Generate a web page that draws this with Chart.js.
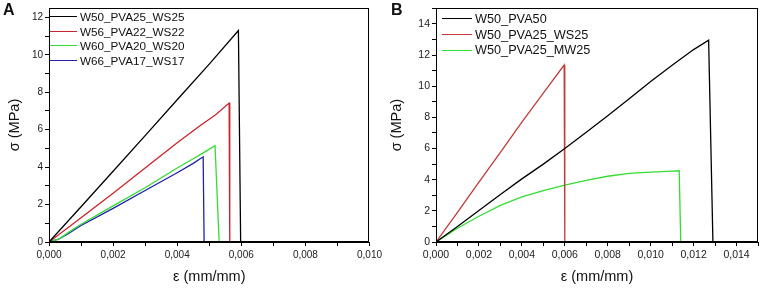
<!DOCTYPE html>
<html>
<head>
<meta charset="utf-8">
<script src="https://cdn.jsdelivr.net/npm/chart.js@4.4.1/dist/chart.umd.min.js"></script>
<style>
  body { margin: 0; background: #fff; font-family: "Liberation Sans", Arial, sans-serif; }
  #wrap { position: relative; width: 765px; height: 290px; overflow: hidden; }
  .panel { position: absolute; top: 0; }
  .tag { position: absolute; top: 2px; font-weight: bold; font-size: 16px; line-height: 16px; color: #111; }
  .legend { position: absolute; color: #111; }
  .legend .row { display: flex; align-items: center; white-space: nowrap; }
  .legend .line { display: inline-block; height: 0; border-top: 1.5px solid; margin-right: 3px; }
</style>
</head>
<body>
<div id="wrap">
  <canvas id="chartA" class="panel" style="left:0" width="385" height="290"></canvas>
  <canvas id="chartB" class="panel" style="left:385px" width="380" height="290"></canvas>
  <div class="tag" style="left:3px">A</div>
  <div class="tag" style="left:391px">B</div>
  <div id="legendA" class="legend" style="left:50px; top:9px; font-size:11.7px"></div>
  <div id="legendB" class="legend" style="left:442px; top:11px; font-size:12.7px"></div>
</div>

<script>
"use strict";

// ---- Panel A : strain (mm/mm) / stress (MPa) ----
const namesA = ["W50_PVA25_WS25", "W56_PVA22_WS22", "W60_PVA20_WS20", "W66_PVA17_WS17"];

const strainA_W50 = [0, 0.001, 0.002, 0.003, 0.004, 0.005, 0.00591, 0.00598];
const stressA_W50 = [0, 1.88, 3.78, 5.68, 7.6, 9.5, 11.3, 0];

const strainA_W56 = [0, 0.001, 0.002, 0.003, 0.004, 0.0047, 0.0052, 0.00562, 0.00564];
const stressA_W56 = [0, 1.3, 2.6, 3.95, 5.3, 6.2, 6.8, 7.42, 0];

const strainA_W60 = [0, 0.0003, 0.0006, 0.001, 0.002, 0.003, 0.004, 0.0045, 0.0048, 0.00518, 0.00531];
const stressA_W60 = [0, 0.15, 0.5, 0.95, 1.93, 2.9, 3.95, 4.45, 4.75, 5.15, 0];

const strainA_W66 = [0, 0.0003, 0.0006, 0.001, 0.002, 0.003, 0.004, 0.0045, 0.00481, 0.00484];
const stressA_W66 = [0, 0.15, 0.45, 0.88, 1.8, 2.75, 3.7, 4.2, 4.55, 0];

// ---- Panel B ----
const namesB = ["W50_PVA50", "W50_PVA25_WS25", "W50_PVA25_MW25"];

const strainB_PVA50 = [0, 0.001, 0.002, 0.003, 0.004, 0.005, 0.006, 0.007, 0.008, 0.009, 0.010, 0.011, 0.012, 0.0127, 0.0129];
const stressB_PVA50 = [0, 1.0, 2.02, 3.05, 4.05, 5.0, 6.0, 7.05, 8.1, 9.2, 10.3, 11.35, 12.35, 12.95, 0];

const strainB_WS25 = [0, 0.001, 0.002, 0.003, 0.004, 0.005, 0.00597, 0.006];
const stressB_WS25 = [0, 1.9, 3.85, 5.75, 7.7, 9.55, 11.36, 0];

const strainB_MW25 = [0, 0.001, 0.002, 0.003, 0.004, 0.005, 0.006, 0.007, 0.008, 0.009, 0.010, 0.011, 0.01133, 0.0114];
const stressB_MW25 = [0, 0.88, 1.65, 2.35, 2.9, 3.3, 3.65, 3.95, 4.22, 4.4, 4.48, 4.55, 4.57, 0];

// axis ranges
const xMaxA = 0.010, yMaxA = 12.5;
const xMaxB = 0.015, yMaxB = 15;
const xStep = 0.001, yStep = 1;

const xTitle = "\u03b5 (mm/mm)";
const yTitle = "\u03c3 (MPa)";

function toPoints(xs, ys) {
  return xs.map((x, i) => ({ x: x, y: ys[i] }));
}

function series(label, xs, ys, color) {
  return {
    label: label,
    data: toPoints(xs, ys),
    borderColor: color,
    backgroundColor: color,
    borderWidth: 1.3,
    showLine: true,
    pointRadius: 0,
    tension: 0
  };
}

// draws the box around the plot area
const framePlugin = {
  id: "frame",
  afterDraw(chart) {
    const a = chart.chartArea;
    const ctx = chart.ctx;
    ctx.save();
    ctx.strokeStyle = "#000";
    ctx.lineWidth = 1;
    ctx.strokeRect(Math.round(a.left) + 0.5, Math.round(a.top) + 0.5,
      Math.round(a.right - a.left) - 1, Math.round(a.bottom - a.top) - 1);
    ctx.restore();
  }
};

function makeOptions(cfg) {
  return {
    responsive: false,
    animation: false,
    layout: { padding: { left: 0, top: 7, right: cfg.padRight, bottom: 0 } },
    plugins: { legend: { display: false }, tooltip: { enabled: false } },
    scales: {
      x: {
        type: "linear",
        min: 0,
        max: cfg.xMax,
        border: { display: true, color: "#000", width: 1 },
        grid: { drawOnChartArea: false, tickLength: 4, tickColor: "#000" },
        ticks: {
          stepSize: xStep,
          autoSkip: false,
          maxRotation: 0,
          includeBounds: false,
          padding: 3,
          color: "#222",
          font: { family: "Liberation Sans", size: cfg.tickSize },
          callback: v => (Math.round(v * 1000) % 2 === 0 ? v.toFixed(3).replace(".", ",") : "")
        },
        title: {
          display: true,
          text: xTitle,
          color: "#111",
          font: { family: "Liberation Sans", size: 14.5 },
          padding: { top: 0, bottom: 4 }
        },
        afterFit: s => { s.height = 48; }
      },
      y: {
        type: "linear",
        min: 0,
        max: cfg.yMax,
        border: { display: true, color: "#000", width: 1 },
        grid: { drawOnChartArea: false, tickLength: 4, tickColor: "#000" },
        ticks: {
          stepSize: yStep,
          autoSkip: false,
          includeBounds: false,
          padding: 2,
          color: "#222",
          font: { family: "Liberation Sans", size: cfg.tickSize },
          callback: v => (Math.round(v) % 2 === 0 ? String(v) : "")
        },
        title: {
          display: true,
          text: yTitle,
          color: "#111",
          font: { family: "Liberation Sans", size: 14.5 },
          padding: { top: cfg.titlePad, bottom: 0 }
        },
        afterFit: s => { s.width = cfg.yWidth; }
      }
    }
  };
}

// html legend built from the chart's own datasets
function buildLegend(chart, elId, lineLen, rowH) {
  const box = document.getElementById(elId);
  chart.data.datasets.forEach(ds => {
    const row = document.createElement("div");
    row.className = "row";
    row.style.height = rowH + "px";
    const line = document.createElement("span");
    line.className = "line";
    line.style.width = lineLen + "px";
    line.style.borderColor = ds.borderColor;
    const txt = document.createElement("span");
    txt.textContent = ds.label;
    row.appendChild(line);
    row.appendChild(txt);
    box.appendChild(row);
  });
}

const chartA = new Chart(document.getElementById("chartA"), {
  type: "scatter",
  data: {
    datasets: [
      series(namesA[0], strainA_W50, stressA_W50, "#000000"),
      series(namesA[1], strainA_W56, stressA_W56, "#cc2229"),
      series(namesA[2], strainA_W60, stressA_W60, "#33dd33"),
      series(namesA[3], strainA_W66, stressA_W66, "#1f1fb0")
    ]
  },
  options: makeOptions({ xMax: xMaxA, yMax: yMaxA, padRight: 14, yWidth: 49, tickSize: 10, titlePad: 6 }),
  plugins: [framePlugin]
});

const chartB = new Chart(document.getElementById("chartB"), {
  type: "scatter",
  data: {
    datasets: [
      series(namesB[0], strainB_PVA50, stressB_PVA50, "#000000"),
      series(namesB[1], strainB_WS25, stressB_WS25, "#c43a3a"),
      series(namesB[2], strainB_MW25, stressB_MW25, "#33dd33")
    ]
  },
  options: makeOptions({ xMax: xMaxB, yMax: yMaxB, padRight: 7, yWidth: 51, tickSize: 10.5, titlePad: 3 }),
  plugins: [framePlugin]
});

buildLegend(chartA, "legendA", 27, 14.7);
buildLegend(chartB, "legendB", 30, 15.7);
</script>
</body>
</html>
